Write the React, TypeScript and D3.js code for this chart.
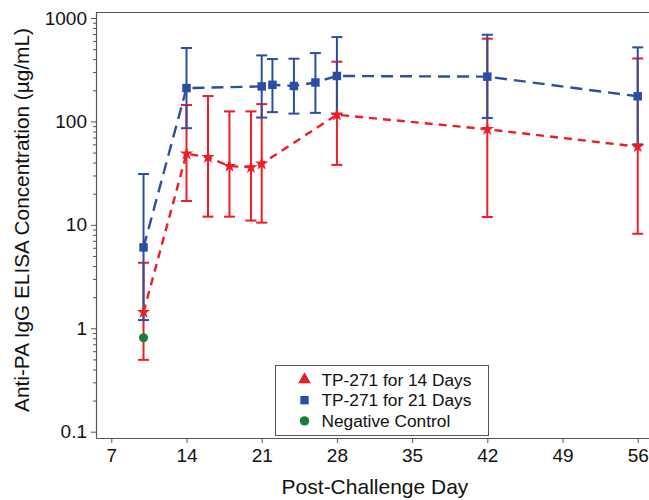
import React, { useEffect, useRef } from 'react';
import * as d3 from 'd3';

// TP-271 for 14 days (red)
const days14 = [10, 14, 16, 18, 20, 21, 28, 42, 56];
const mean14 = [1.43, 48.7, 45, 37, 36, 39, 116, 84, 57];
const low14 = [0.495, 17, 12, 12, 11, 10.5, 38, 11.9, 8.2];
const high14 = [4.3, 144, 176, 125, 125, 147, 378, 631, 406];

// TP-271 for 21 days (blue)
const days21 = [10, 14, 21, 22, 24, 26, 28, 42, 56];
const mean21 = [6.05, 210, 218, 226, 220, 238, 275, 271, 175];
const low21 = [1.2, 86, 109, 123, 119, 121, 118, 108, 60];
const high21 = [31, 513, 435, 401, 404, 458, 654, 689, 520];

// negative control (green)
const daysNeg = [10];
const meanNeg = [0.81];

const xTicks = [7, 14, 21, 28, 35, 42, 49, 56];
const yTicks = [0.1, 1, 10, 100, 1000];
const legendLabels = ['TP-271 for 14 Days', 'TP-271 for 21 Days', 'Negative Control'];

const RED = '#ee1d25';
const BLUE = '#2c4ea2';
const GREEN = '#1a7c3e';
const AXIS = '#555';
const FONT = '"Liberation Sans", Arial, sans-serif';

const W = 649;
const H = 500;
const plot = { left: 96, right: 649, top: 12, bottom: 438 };

export default function App() {
  const ref = useRef<SVGSVGElement>(null);

  useEffect(() => {
    const svg = d3.select(ref.current);
    svg.selectAll('*').remove();

    const x = d3.scaleLinear().domain([5.576, 57.05]).range([plot.left, plot.right]);
    const y = d3.scaleLog().domain([Math.pow(10, -1.061), Math.pow(10, 3.058)]).range([plot.bottom, plot.top]);

    // frame top line
    svg.append('line')
      .attr('x1', plot.left).attr('x2', plot.right)
      .attr('y1', plot.top + 0.5).attr('y2', plot.top + 0.5)
      .attr('stroke', AXIS).attr('stroke-width', 1.2);

    // x axis
    const gx = svg.append('g')
      .attr('transform', 'translate(0,' + plot.bottom + ')')
      .call(d3.axisBottom(x).tickValues(xTicks).tickSize(5).tickPadding(6).tickSizeOuter(0));
    gx.select('.domain').attr('stroke', AXIS).attr('stroke-width', 1.2);
    gx.selectAll('.tick line').attr('stroke', AXIS);
    gx.selectAll('.tick text').attr('fill', '#111').style('font-size', '19px').style('font-family', FONT);

    // y axis minor ticks
    const minor: number[] = [];
    for (let e = -1; e < 3; e++) {
      for (let k = 2; k <= 9; k++) minor.push(k * Math.pow(10, e));
    }
    const gyMinor = svg.append('g')
      .attr('transform', 'translate(' + plot.left + ',0)')
      .call(d3.axisLeft(y).tickValues(minor).tickSize(3).tickFormat(() => ''));
    gyMinor.select('.domain').remove();
    gyMinor.selectAll('.tick line').attr('stroke', AXIS);

    const gy = svg.append('g')
      .attr('transform', 'translate(' + plot.left + ',0)')
      .call(d3.axisLeft(y).tickValues(yTicks).tickSize(5).tickPadding(4).tickSizeOuter(0)
        .tickFormat((d: any) => String(d)));
    gy.select('.domain').attr('stroke', AXIS).attr('stroke-width', 1.2);
    gy.selectAll('.tick line').attr('stroke', AXIS);
    gy.selectAll('.tick text').attr('fill', '#111').style('font-size', '19px').style('font-family', FONT);

    // axis titles
    svg.append('text')
      .attr('x', 375).attr('y', 494)
      .attr('text-anchor', 'middle')
      .style('font-family', FONT).style('font-size', '21px').attr('fill', '#111')
      .text('Post-Challenge Day');
    svg.append('text')
      .attr('transform', 'translate(29,220) rotate(-90)')
      .attr('text-anchor', 'middle')
      .style('font-family', FONT).style('font-size', '20.8px').attr('fill', '#111')
      .text('Anti-PA IgG ELISA Concentration (µg/mL)');

    const errorBars = (days: number[], lo: number[], hi: number[], color: string) => {
      const g = svg.append('g').attr('stroke', color).attr('stroke-width', 2).attr('fill', 'none');
      days.forEach((d, i) => {
        const cx = x(d);
        g.append('line').attr('x1', cx).attr('x2', cx).attr('y1', y(lo[i])).attr('y2', y(hi[i]));
        g.append('line').attr('x1', cx - 5.5).attr('x2', cx + 5.5).attr('y1', y(lo[i])).attr('y2', y(lo[i]));
        g.append('line').attr('x1', cx - 5.5).attr('x2', cx + 5.5).attr('y1', y(hi[i])).attr('y2', y(hi[i]));
      });
    };
    errorBars(days14, low14, high14, RED);
    errorBars(days21, low21, high21, BLUE);

    const drawLine = (days: number[], vals: number[], color: string, dash: string) => {
      const l = d3.line<number>().x((d) => x(d)).y((d, i) => y(vals[i]));
      svg.append('path')
        .attr('d', l(days) || '')
        .attr('fill', 'none')
        .attr('stroke', color)
        .attr('stroke-width', 2.4)
        .attr('stroke-dasharray', dash);
    };
    drawLine(days14, mean14, RED, '8,6');
    drawLine(days21, mean21, BLUE, '12,7');

    const markers = (days: number[], vals: number[], type: d3.SymbolType, size: number, color: string) => {
      svg.append('g').selectAll('path')
        .data(days)
        .join('path')
        .attr('transform', (d, i) => 'translate(' + x(d) + ',' + y(vals[i]) + ')')
        .attr('d', d3.symbol().type(type).size(size)() || '')
        .attr('fill', color);
    };
    markers(days14, mean14, d3.symbolStar, 55, RED);
    markers(days21, mean21, d3.symbolSquare, 72, BLUE);
    markers(daysNeg, meanNeg, d3.symbolCircle, 64, GREEN);

    // legend
    const lg = svg.append('g').attr('transform', 'translate(275,365)');
    lg.append('rect').attr('x', 0.5).attr('y', 0.5).attr('width', 213).attr('height', 70)
      .attr('fill', 'white').attr('stroke', AXIS).attr('stroke-width', 1);
    const legendSymbols = [d3.symbolTriangle, d3.symbolSquare, d3.symbolCircle];
    const legendColors = [RED, BLUE, GREEN];
    legendLabels.forEach((t, i) => {
      const cy = 14.5 + i * 20.7;
      lg.append('path')
        .attr('transform', 'translate(29.5,' + cy + ')')
        .attr('d', d3.symbol().type(legendSymbols[i]).size(70)() || '')
        .attr('fill', legendColors[i]);
      lg.append('text')
        .attr('x', 46.5).attr('y', cy + 6)
        .style('font-family', FONT).style('font-size', '17.3px').attr('fill', '#111')
        .text(t);
    });
  }, []);

  return (
    <svg ref={ref} width={W} height={H}
         style={{ position: 'absolute', left: 0, top: 0, background: 'white' }} />
  );
}
